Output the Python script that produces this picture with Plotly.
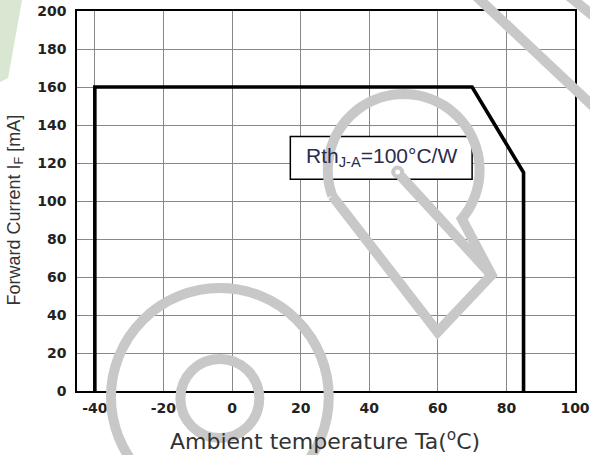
import numpy as np
import plotly.graph_objects as go

# ---- data ----
temp_c = [-40, -40, 70, 85, 85]
current_ma = [0, 160, 160, 115, 0]
x_ticks = [-40, -20, 0, 20, 40, 60, 80, 100]
x_tick_labels = ["-40", "-20", "0", "20", "40", "60", "80", "100"]
y_ticks = [0, 20, 40, 60, 80, 100, 120, 140, 160, 180, 200]
rth_label = "Rth<sub>J-A</sub>=100°C/W"

FW, FH = 590, 455
# plot area in pixels
SL, SR, ST, SB = 77, 575.5, 11, 391
ML, MR, MT, MB = SL, FW - SR, ST, FH - SB
PW, PH = SR - SL, SB - ST


def P(x, y):
    """pixel -> paper coordinates"""
    return (x - SL) / PW, (SB - y) / PH


def path_from(points, close=False):
    s = ""
    for i, (x, y) in enumerate(points):
        px, py = P(x, y)
        s += ("M" if i == 0 else "L") + f"{px:.5f},{py:.5f} "
    if close:
        s += "Z"
    return s


fig = go.Figure()
fig.add_trace(go.Scatter(x=temp_c, y=current_ma, mode="lines",
                         line=dict(color="black", width=3.6), showlegend=False,
                         hoverinfo="skip"))

WM = "#c8c8c8"
shapes = []
# label box
shapes.append(dict(type="rect", xref="x", yref="y", x0=17, x1=70, y0=111.5, y1=134,
                   fillcolor="white", line=dict(color="black", width=1.5), layer="between"))


def circ(cx, cy, r, w):
    x0, y0 = P(cx - r, cy + r)
    x1, y1 = P(cx + r, cy - r)
    return dict(type="circle", xref="paper", yref="paper", x0=x0, y0=y0, x1=x1, y1=y1,
                line=dict(color=WM, width=w), layer="above")


shapes.append(circ(220, 397, 109, 10))
shapes.append(circ(220, 398.5, 39.5, 10))
shapes.append(circ(398, 172, 4.5, 4))

# pin outline
cx, cy, r = 404, 170, 76
ang = np.radians(np.linspace(200, -40, 60))
arc = [(cx + r * np.cos(a), cy - r * np.sin(a)) for a in ang]
pin = arc + [(492, 275), (438, 332), arc[0]]
shapes.append(dict(type="path", xref="paper", yref="paper", path=path_from(pin),
                   line=dict(color=WM, width=10), layer="above"))
shapes.append(dict(type="path", xref="paper", yref="paper",
                   path=path_from([(401, 176), (492, 275)]),
                   line=dict(color=WM, width=10), layer="above"))
# diagonal strokes top right
shapes.append(dict(type="path", xref="paper", yref="paper",
                   path=path_from([(470, -10), (605, 117)]),
                   line=dict(color=WM, width=10), layer="above"))
shapes.append(dict(type="path", xref="paper", yref="paper",
                   path=path_from([(562, -10), (605, 25)]),
                   line=dict(color=WM, width=10), layer="above"))
# green corner
shapes.append(dict(type="path", xref="paper", yref="paper",
                   path=path_from([(0, 0), (22, 0), (8, 78), (0, 82)], close=True),
                   fillcolor="#d8e6d2", line=dict(width=0), layer="above"))

ax_font = dict(family="DejaVu Sans", size=14, color="#222", weight="bold")

fig.update_layout(
    width=FW, height=FH,
    margin=dict(l=ML, r=MR, t=MT, b=MB, pad=0, autoexpand=False),
    paper_bgcolor="white", plot_bgcolor="white",
    xaxis=dict(range=[-45.2, 100], tickvals=x_ticks, ticktext=x_tick_labels,
               showgrid=True, gridcolor="#888",
               gridwidth=1, zeroline=False, showline=True, linecolor="black", linewidth=1.6,
               mirror=True, ticks="", tickfont=ax_font, ticklabelstandoff=3,
               automargin=False),
    yaxis=dict(range=[0, 200], tickvals=y_ticks, showgrid=True, gridcolor="#888",
               gridwidth=1, zeroline=False, showline=True, linecolor="black", linewidth=1.6,
               mirror=True, ticks="", tickfont=ax_font, ticklabelstandoff=6,
               automargin=False),
    shapes=shapes,
    annotations=[
        dict(text=rth_label, x=43.5, y=123, xref="x", yref="y", showarrow=False,
             font=dict(family="Liberation Sans", size=21, color="#2b2b4b")),
        dict(text="Forward Current I<sub>F</sub> [mA]", textangle=-90,
             x=P(14.5, 0)[0], y=P(0, 210)[1], xref="paper", yref="paper",
             xanchor="center", yanchor="middle", showarrow=False,
             font=dict(family="Liberation Sans", size=18, color="#333")),
        dict(text="Ambient temperature Ta(<sup>o</sup>C)",
             x=P(325, 0)[0], y=P(0, 440)[1], xref="paper", yref="paper",
             xanchor="center", yanchor="middle", showarrow=False,
             font=dict(family="DejaVu Sans", size=22, color="#333")),
    ],
)

fig.write_html("out.html",
               config={"displayModeBar": False},
               post_script="document.body.style.margin='0';"
                           "document.body.style.overflow='hidden';")
